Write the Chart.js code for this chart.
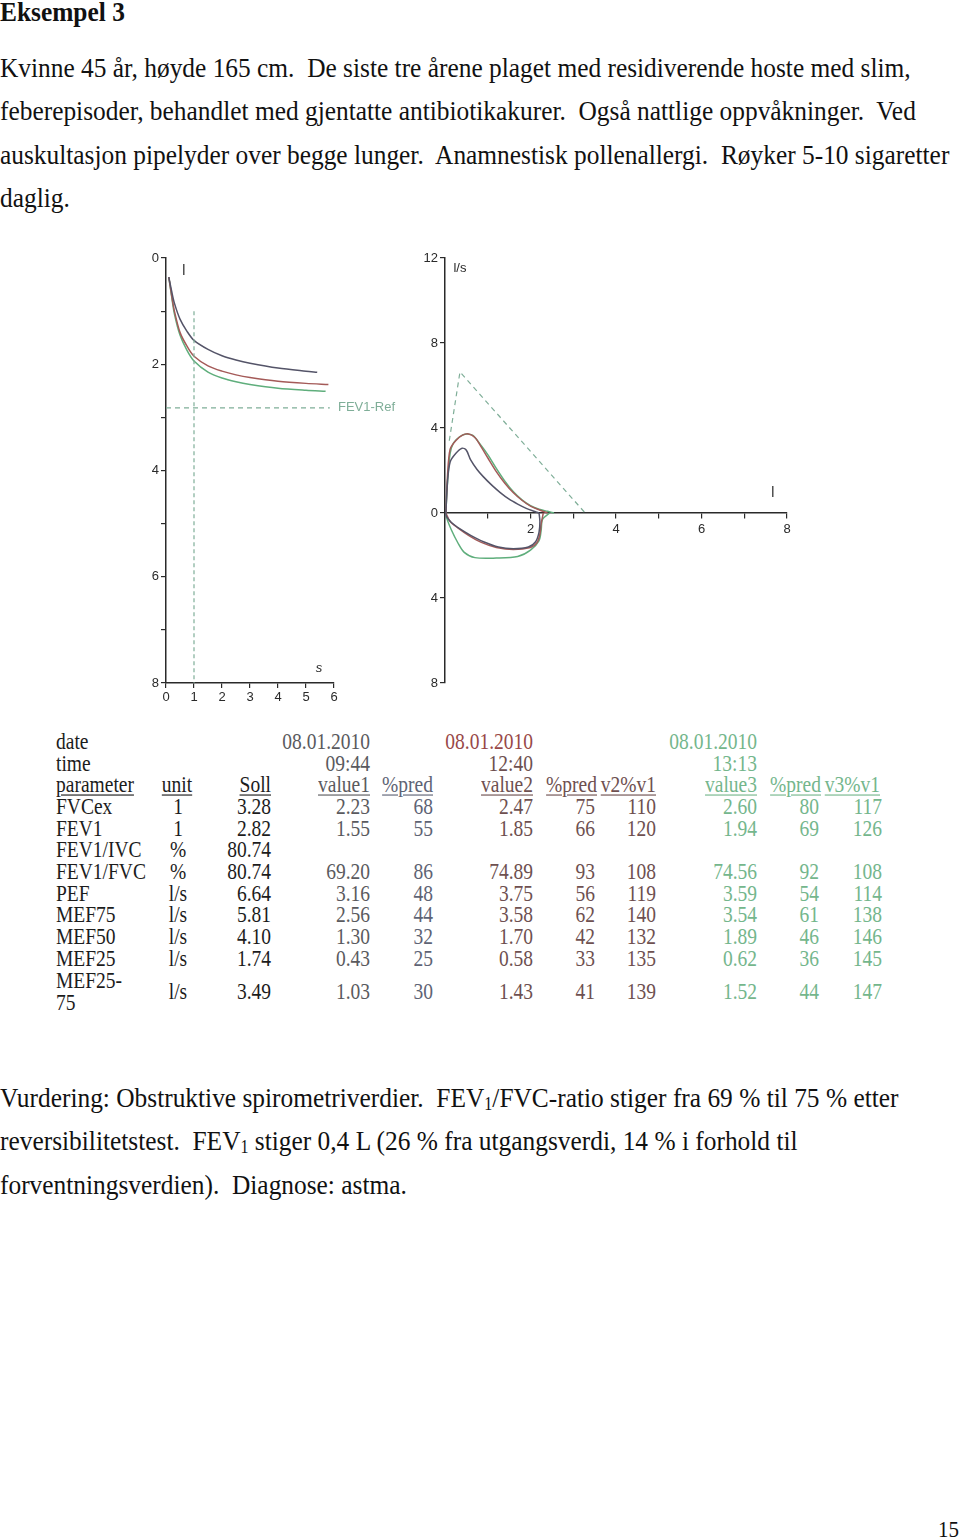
<!DOCTYPE html>
<html>
<head>
<meta charset="utf-8">
<script src="https://cdn.jsdelivr.net/npm/chart.js@4.4.1/dist/chart.umd.min.js"></script>
<style>
  html, body { margin:0; padding:0; background:#fff; }
  body { width:960px; height:1538px; position:relative; overflow:hidden; }
  .ln { position:absolute; left:0; white-space:pre; font-family:'Liberation Serif','Times New Roman',serif; font-size:25.4px; line-height:30px; color:#111; transform:scaleY(1.115); transform-origin:0 0; }
  .ln sub { font-size:16px; vertical-align:-3px; line-height:0; }
  .cell { position:absolute; white-space:pre; font-family:'Liberation Serif','Times New Roman',serif; font-size:19.5px; line-height:22px; transform:scaleY(1.13); transform-origin:0 0; }
  canvas { position:absolute; }
</style>
</head>
<body>
<div class="ln" style="top:-6px;font-weight:bold;">Eksempel 3</div>
<div class="ln" style="top:50px;">Kvinne 45 år, høyde 165 cm.  De siste tre årene plaget med residiverende hoste med slim,</div>
<div class="ln" style="top:93px;">feberepisoder, behandlet med gjentatte antibiotikakurer.  Også nattlige oppvåkninger.  Ved</div>
<div class="ln" style="top:137px;">auskultasjon pipelyder over begge lunger.  Anamnestisk pollenallergi.  Røyker 5-10 sigaretter</div>
<div class="ln" style="top:180px;">daglig.</div>

<canvas id="vt" width="270" height="470" style="left:140px;top:245px;"></canvas>
<canvas id="fv" width="400" height="470" style="left:410px;top:245px;"></canvas>

<div id="table"></div>

<div class="ln" style="top:1080px;">Vurdering: Obstruktive spirometriverdier.  FEV<sub>1</sub>/FVC-ratio stiger fra 69 % til 75 % etter</div>
<div class="ln" style="top:1123px;">reversibilitetstest.  FEV<sub>1</sub> stiger 0,4 L (26 % fra utgangsverdi, 14 % i forhold til</div>
<div class="ln" style="top:1167px;">forventningsverdien).  Diagnose: astma.</div>
<div class="ln" style="top:1512px;left:auto;right:1px;font-size:21px;">15</div>

<script>
// ---------- Volume-time curves (s, litres) ----------
const vt1T = [0.1, 0.2, 0.3, 0.5, 0.75, 1.0, 1.5, 2.0, 2.5, 3.0, 4.0, 5.0, 5.4];
const vt1V = [0.36, 0.62, 0.85, 1.15, 1.38, 1.55, 1.72, 1.84, 1.92, 1.98, 2.07, 2.13, 2.15];
const vt2T = [0.1, 0.2, 0.3, 0.5, 0.75, 1.0, 1.5, 2.0, 2.5, 3.0, 4.0, 5.0, 5.8];
const vt2V = [0.36, 0.7, 1.0, 1.4, 1.66, 1.85, 2.03, 2.13, 2.2, 2.25, 2.32, 2.36, 2.38];
const vt3T = [0.1, 0.2, 0.3, 0.5, 0.75, 1.0, 1.5, 2.0, 2.5, 3.0, 4.0, 5.0, 5.7];
const vt3V = [0.36, 0.72, 1.05, 1.45, 1.74, 1.94, 2.15, 2.26, 2.33, 2.38, 2.45, 2.49, 2.51];
const fev1RefT = [0, 5.85];
const fev1RefV = [2.82, 2.82];
const oneSecT = [1, 1];
const oneSecV = [1, 8];

// ---------- Flow-volume loops (litres, l/s) ----------
const fv1ExV = [0.02, 0.06, 0.12, 0.25, 0.4, 0.5, 0.6, 0.75, 0.9, 1.1, 1.3, 1.5, 1.7, 1.9, 2.1, 2.2];
const fv1ExF = [0, 1.5, 2.4, 2.8, 3.05, 2.95, 2.5, 2.05, 1.7, 1.3, 0.95, 0.65, 0.42, 0.22, 0.07, 0];
const fv1InV = [2.2, 2.22, 2.2, 2.12, 1.95, 1.6, 1.25, 0.9, 0.6, 0.35, 0.15, 0.03, 0.02];
const fv1InF = [0, -0.4, -0.9, -1.35, -1.6, -1.68, -1.6, -1.35, -1.05, -0.75, -0.45, -0.15, 0];
const fv2ExV = [0.02, 0.06, 0.12, 0.25, 0.4, 0.55, 0.7, 0.85, 1.0, 1.2, 1.4, 1.6, 1.8, 2.0, 2.2, 2.4];
const fv2ExF = [0, 1.8, 3.0, 3.4, 3.65, 3.72, 3.55, 3.1, 2.6, 1.95, 1.4, 0.95, 0.6, 0.32, 0.15, 0];
const fv2InV = [2.3, 2.25, 2.22, 2.15, 2.0, 1.6, 1.2, 0.85, 0.55, 0.3, 0.12, 0.02];
const fv2InF = [0, -0.5, -1.0, -1.4, -1.62, -1.72, -1.62, -1.38, -1.05, -0.7, -0.4, 0];
const fv3ExV = [0.02, 0.06, 0.12, 0.2, 0.35, 0.5, 0.65, 0.8, 1.0, 1.2, 1.4, 1.6, 1.8, 2.0, 2.2, 2.4, 2.55];
const fv3ExF = [0, 1.5, 2.8, 3.3, 3.6, 3.72, 3.65, 3.3, 2.75, 2.1, 1.5, 1.0, 0.62, 0.35, 0.18, 0.08, 0];
const fv3InV = [2.45, 2.28, 2.25, 2.2, 2.0, 1.7, 1.2, 0.7, 0.45, 0.3, 0.15, 0.05, 0.02];
const fv3InF = [0, -0.3, -0.8, -1.3, -1.75, -2.05, -2.12, -2.1, -1.85, -1.4, -0.8, -0.3, 0];
const fvRefV = [0.1, 0.35, 3.28];
const fvRefF = [3.4, 6.64, 0];

// ---------- Axis ticks ----------
const vtTimeTicks = [0, 1, 2, 3, 4, 5, 6];
const vtVolLabels = [0, 2, 4, 6, 8];
const fvVolLabels = [2, 4, 6, 8];
const fvFlowTicks = [-8, -4, 0, 4, 8, 12];

// ---------- Table ----------
const tParams = ['FVCex', 'FEV1', 'FEV1/IVC', 'FEV1/FVC', 'PEF', 'MEF75', 'MEF50', 'MEF25', 'MEF25-\n75'];
const tUnits  = ['1', '1', '%', '%', 'l/s', 'l/s', 'l/s', 'l/s', 'l/s'];
const tSoll   = ['3.28', '2.82', '80.74', '80.74', '6.64', '5.81', '4.10', '1.74', '3.49'];
const tValue1 = ['2.23', '1.55', '', '69.20', '3.16', '2.56', '1.30', '0.43', '1.03'];
const tPred1  = ['68', '55', '', '86', '48', '44', '32', '25', '30'];
const tValue2 = ['2.47', '1.85', '', '74.89', '3.75', '3.58', '1.70', '0.58', '1.43'];
const tPred2  = ['75', '66', '', '93', '56', '62', '42', '33', '41'];
const tV2V1   = ['110', '120', '', '108', '119', '140', '132', '135', '139'];
const tValue3 = ['2.60', '1.94', '', '74.56', '3.59', '3.54', '1.89', '0.62', '1.52'];
const tPred3  = ['80', '69', '', '92', '54', '61', '46', '36', '44'];
const tV3V1   = ['117', '126', '', '108', '114', '138', '146', '145', '147'];
const tDates  = ['08.01.2010', '08.01.2010', '08.01.2010'];
const tTimes  = ['09:44', '12:40', '13:13'];

// colours
const C_DARK = '#545468', C_RED = '#a45a58', C_GREEN = '#5fae7c', C_REF = '#7fae98', C_AX = '#2a2a2a';
const T_BLACK = '#1c1c1c', T_G1 = '#5a5a5e', T_G1B = '#5e6374', T_G2 = '#6e5050', T_G2D = '#984848', T_G3 = '#74b68c';

// ---- build table ----
(function () {
  const host = document.getElementById('table');
  const rowBase = 815, step = 21.67, off = 19.9;
  function cell(text, x, baseline, color, align, underline) {
    const d = document.createElement('div');
    d.className = 'cell';
    d.textContent = text;
    d.style.color = color;
    d.style.top = (baseline - off) + 'px';
    if (align === 'right') { d.style.left = (x - 200) + 'px'; d.style.width = '200px'; d.style.textAlign = 'right'; }
    else if (align === 'center') { d.style.left = (x - 50) + 'px'; d.style.width = '100px'; d.style.textAlign = 'center'; }
    else { d.style.left = x + 'px'; }
    if (underline) { d.style.textDecoration = 'underline'; d.style.textUnderlineOffset = '2px'; }
    host.appendChild(d);
  }
  const bDate = rowBase - 3 * step, bTime = rowBase - 2 * step, bHead = rowBase - step;
  cell('date', 56, bDate, T_BLACK, 'left');
  cell('time', 56, bTime, T_BLACK, 'left');
  cell(tDates[0], 370, bDate, T_G1, 'right');
  cell(tDates[1], 533, bDate, T_G2D, 'right');
  cell(tDates[2], 757, bDate, T_G3, 'right');
  cell(tTimes[0], 370, bTime, T_G1, 'right');
  cell(tTimes[1], 533, bTime, T_G2, 'right');
  cell(tTimes[2], 757, bTime, T_G3, 'right');
  cell('parameter', 56, bHead, T_BLACK, 'left', true);
  cell('unit', 177, bHead, T_BLACK, 'center', true);
  cell('Soll', 271, bHead, T_BLACK, 'right', true);
  cell('value1', 370, bHead, T_G1, 'right', true);
  cell('%pred', 433, bHead, T_G1B, 'right', true);
  cell('value2', 533, bHead, T_G2, 'right', true);
  cell('%pred', 597, bHead, T_G2, 'right', true);
  cell('v2%v1', 656, bHead, T_G2, 'right', true);
  cell('value3', 757, bHead, T_G3, 'right', true);
  cell('%pred', 821, bHead, T_G3, 'right', true);
  cell('v3%v1', 880, bHead, T_G3, 'right', true);
  tParams.forEach((p, i) => {
    let b = rowBase + i * step;
    if (p.indexOf('\n') >= 0) {
      const parts = p.split('\n');
      cell(parts[0], 56, b + 1, T_BLACK, 'left');
      cell(parts[1], 56, b + 1 + step, T_BLACK, 'left');
      b = b + 12;
    } else {
      cell(p, 56, b, T_BLACK, 'left');
    }
    cell(tUnits[i], 178, b, T_BLACK, 'center');
    cell(tSoll[i], 271, b, T_BLACK, 'right');
    cell(tValue1[i], 370, b, T_G1, 'right');
    cell(tPred1[i], 433, b, T_G1B, 'right');
    cell(tValue2[i], 533, b, T_G2, 'right');
    cell(tPred2[i], 595, b, T_G2, 'right');
    cell(tV2V1[i], 656, b, T_G2, 'right');
    cell(tValue3[i], 757, b, T_G3, 'right');
    cell(tPred3[i], 819, b, T_G3, 'right');
    cell(tV3V1[i], 882, b, T_G3, 'right');
  });
})();

// ---- charts ----
function pts(xs, ys) { return xs.map((x, i) => ({ x: x, y: ys[i] })); }
function series(xs, ys, color, extra) {
  return Object.assign({ data: pts(xs, ys), showLine: true, borderColor: color, borderWidth: 1.5,
    pointRadius: 0, pointHoverRadius: 0, fill: false, tension: 0.3 }, extra || {});
}
const textPlugin = {
  id: 'txt',
  afterDraw(chart, args, opts) {
    const { ctx, scales } = chart;
    (opts.items || []).forEach(it => {
      ctx.save();
      ctx.font = it.font || '12px "Liberation Sans", Arial, sans-serif';
      ctx.fillStyle = it.color || C_AX;
      ctx.textAlign = it.align || 'center';
      ctx.textBaseline = 'middle';
      ctx.fillText(it.text, scales.x.getPixelForValue(it.x) + (it.dx || 0), scales.y.getPixelForValue(it.y));
      ctx.restore();
    });
  }
};
const tickFont = { family: '"Liberation Sans", Arial, sans-serif', size: 13 };
const gridCfg = { drawOnChartArea: false, drawTicks: true, tickLength: 5, color: C_AX, lineWidth: 1.2 };
const borderCfg = { display: true, color: C_AX, width: 1.5 };

new Chart(document.getElementById('vt'), {
  type: 'scatter',
  data: { datasets: [
    series(fev1RefT, fev1RefV, C_REF, { borderDash: [5, 4], borderWidth: 1.2, tension: 0 }),
    series(oneSecT, oneSecV, C_REF, { borderDash: [4, 3], borderWidth: 1.2, tension: 0 }),
    series(vt1T, vt1V, C_DARK),
    series(vt2T, vt2V, C_RED),
    series(vt3T, vt3V, C_GREEN)
  ] },
  options: {
    responsive: false, animation: false, devicePixelRatio: 1,
    layout: { padding: { top: 13, right: 76, bottom: 0, left: 0 } },
    plugins: { legend: { display: false }, tooltip: { enabled: false },
      txt: { items: [
        { text: 'l', x: 0.64, y: 0.25, font: '14px "Liberation Sans", Arial, sans-serif' },
        { text: 's', x: 5.46, y: 7.72, font: 'italic 13px "Liberation Sans", Arial, sans-serif' },
        { text: 'FEV1-Ref', x: 6, dx: 4, y: 2.82, align: 'left', color: C_REF, font: '13px "Liberation Sans", Arial, sans-serif' }
      ] } },
    scales: {
      x: { type: 'linear', min: 0, max: 6,
        afterBuildTicks: s => { s.ticks = vtTimeTicks.map(v => ({ value: v })); },
        ticks: { color: C_AX, font: tickFont, padding: 2, callback: v => String(v) },
        grid: gridCfg, border: borderCfg,
        afterFit: s => { s.height = 32; } },
      y: { type: 'linear', min: 0, max: 8, reverse: true,
        ticks: { stepSize: 1, autoSkip: false, color: C_AX, font: tickFont, padding: 2,
          callback: v => vtVolLabels.includes(v) ? String(v) : '' },
        grid: gridCfg, border: borderCfg,
        afterFit: s => { s.width = 26; } }
    }
  },
  plugins: [textPlugin]
});

new Chart(document.getElementById('fv'), {
  type: 'scatter',
  data: { datasets: [
    series(fvRefV, fvRefF, C_REF, { borderDash: [5, 4], borderWidth: 1.2, tension: 0 }),
    series(fv1ExV, fv1ExF, C_DARK),
    series(fv1InV, fv1InF, C_DARK),
    series(fv2ExV, fv2ExF, C_RED),
    series(fv2InV, fv2InF, C_RED),
    series(fv3ExV, fv3ExF, C_GREEN),
    series(fv3InV, fv3InF, C_GREEN)
  ] },
  options: {
    responsive: false, animation: false, devicePixelRatio: 1,
    layout: { padding: { top: 13, right: 23, bottom: 32, left: 0 } },
    plugins: { legend: { display: false }, tooltip: { enabled: false },
      txt: { items: [
        { text: 'l/s', x: 0.35, y: 11.5, font: '13px "Liberation Sans", Arial, sans-serif' },
        { text: 'l', x: 7.67, y: 0.94, font: '14px "Liberation Sans", Arial, sans-serif' }
      ] } },
    scales: {
      x: { type: 'linear', min: 0, max: 8, position: { y: 0 },
        ticks: { stepSize: 1, autoSkip: false, color: C_AX, font: tickFont, padding: 4,
          callback: v => fvVolLabels.includes(v) ? String(v) : '' },
        grid: gridCfg, border: borderCfg },
      y: { type: 'linear', min: -8, max: 12,
        afterBuildTicks: s => { s.ticks = fvFlowTicks.map(v => ({ value: v })); },
        ticks: { color: C_AX, font: tickFont, padding: 2, callback: v => String(Math.abs(v)) },
        grid: gridCfg, border: borderCfg,
        afterFit: s => { s.width = 35; } }
    }
  },
  plugins: [textPlugin]
});
</script>
</body>
</html>
